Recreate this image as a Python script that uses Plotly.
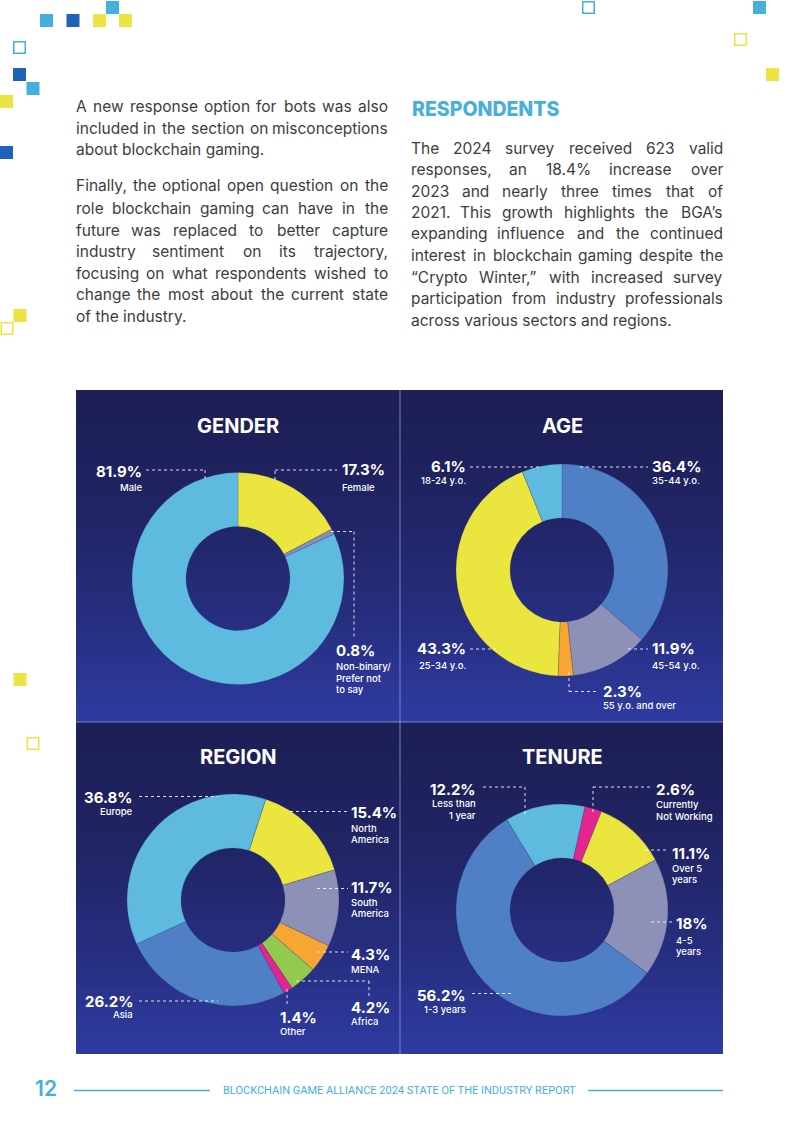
import plotly.graph_objects as go

W, H = 800, 1131

# ---------------- data ----------------
gender_labels = ["Female", "Non-binary/<br>Prefer not<br>to say", "Male"]
gender_values = [17.3, 0.8, 81.9]

age_labels = ["35-44 y.o.", "45-54 y.o.", "55 y.o. and over", "25-34 y.o.", "18-24 y.o."]
age_values = [36.4, 11.9, 2.3, 43.3, 6.1]

region_labels = ["North<br>America", "South<br>America", "MENA", "Africa", "Other", "Asia", "Europe"]
region_values = [15.4, 11.7, 4.3, 4.2, 1.4, 26.2, 36.8]

tenure_labels = ["Currently<br>Not Working", "Over 5<br>years", "4-5<br>years", "1-3 years", "Less than<br>1 year"]
tenure_values = [2.6, 11.1, 18, 56.2, 12.2]

left_text = [
    "A new response option for bots was also",
    "includedinthesectiononmisconceptions",
    "about blockchain gaming.",
    "Finally, the optional open question on the",
    "role blockchain gaming can have in the",
    "future was replaced to better capture",
    "industry sentiment on its trajectory,",
    "focusing on what respondents wished to",
    "change the most about the current state",
    "of the industry.",
]
left_justify = [True, True, False, True, True, True, True, True, True, False]
right_heading = "RESPONDENTS"
right_text = [
    "The 2024 survey received 623 valid",
    "responses, an 18.4% increase over",
    "2023 and nearly three times that of",
    "2021. This growth highlights the BGA’s",
    "expanding influence and the continued",
    "interest in blockchain gaming despite the",
    "“Crypto Winter,” with increased survey",
    "participation from industry professionals",
    "across various sectors and regions.",
]
right_justify = [True, True, True, True, True, True, True, True, False]
footer_page = "12"
footer_text = "BLOCKCHAIN GAME ALLIANCE 2024 STATE OF THE INDUSTRY REPORT"

# ---------------- styles ----------------
LB = "#5fbadf"
YEL = "#ebe63f"
BLUE = "#4f80c6"
GRAY = "#8d91b8"
ORANGE = "#f7a634"
GREEN = "#93c94f"
PINK = "#e6248f"
NB = "#8a8fb8"

ACC_LB = "#45b0dc"
ACC_DB = "#1f63b8"
ACC_Y = "#ece442"

FONT = "Inter, Open Sans, sans-serif"
BODY_COLOR = "#3d3d3d"
BODY_SIZE = 15.5

# approximate Inter advance widths (em) for justification
CW = {}
CW.update(dict(zip("abcdefghijklmnopqrstuvwxyz",
                   [.56, .60, .54, .60, .57, .35, .60, .58, .24, .24, .53, .24, .87, .58, .59, .60,
                    .60, .37, .51, .35, .58, .53, .78, .52, .53, .52])))
CW.update(dict(zip("ABCDEFGHIJKLMNOPQRSTUVWXYZ",
                   [.68, .64, .71, .70, .58, .56, .72, .73, .27, .50, .65, .54, .87, .74, .74, .62,
                    .74, .63, .62, .62, .72, .68, .97, .65, .65, .62])))
CW.update({d: .60 for d in "0234567890"})
CW.update({"1": .42, ".": .26, ",": .26, "’": .24, "“": .42, "”": .42, "%": .86, "-": .45, " ": .27})

# word pieces for the run-together line (rendered without spaces in the source)
SPLIT_PIECES = {"includedinthesectiononmisconceptions": ["included", "in", "the", "section", "on", "misconceptions"]}


def est_width(s, size):
    return sum(CW.get(ch, .56) for ch in s) * size


def X(x):
    return x / W


def Y(y):
    return 1 - y / H


def ann(text, x, y, xanchor, font, yanchor="middle"):
    return dict(text=text, x=X(x), y=Y(y), xref="paper", yref="paper", showarrow=False,
                xanchor=xanchor, yanchor=yanchor, font=font, borderpad=0, borderwidth=0)


fig = go.Figure()
shapes = []
annotations = []

# ---------- panel gradient background ----------
def lerp(c1, c2, t):
    a = [int(c1[i:i + 2], 16) for i in (1, 3, 5)]
    b = [int(c2[i:i + 2], 16) for i in (1, 3, 5)]
    return "rgb(%d,%d,%d)" % tuple(round(a[k] + (b[k] - a[k]) * t) for k in range(3))


PX0, PX1 = 76, 723
rows = [(390, 722), (722, 1054)]
N = 40
for (y0, y1) in rows:
    for i in range(N):
        t = (i + 0.5) / N
        col = lerp("#1d1f56", "#2f3ba2", t ** 1.6)
        ya = y0 + (y1 - y0) * i / N
        shapes.append(dict(type="rect", xref="paper", yref="paper",
                           x0=X(PX0), x1=X(PX1), y0=Y(y1), y1=Y(ya),
                           fillcolor=col, line=dict(width=0), layer="below"))
# dividers
shapes.append(dict(type="line", xref="paper", yref="paper", x0=X(400), x1=X(400),
                   y0=Y(390), y1=Y(1054), line=dict(color="rgba(150,160,225,0.75)", width=1), layer="below"))
shapes.append(dict(type="line", xref="paper", yref="paper", x0=X(PX0), x1=X(PX1),
                   y0=Y(722), y1=Y(722), line=dict(color="rgba(150,160,225,0.75)", width=1), layer="below"))

# ---------- donuts ----------
R = 106
HOLE = 0.49
charts = [
    dict(title="GENDER", labels=gender_labels, values=gender_values, colors=[YEL, NB, LB],
         cx=238, cy=578.5, rot=0, tx=238, ty=426),
    dict(title="AGE", labels=age_labels, values=age_values, colors=[BLUE, GRAY, ORANGE, YEL, LB],
         cx=562, cy=570, rot=0, tx=562, ty=426),
    dict(title="REGION", labels=region_labels, values=region_values,
         colors=[YEL, GRAY, ORANGE, GREEN, PINK, BLUE, LB],
         cx=233, cy=900, rot=18, tx=238, ty=757),
    dict(title="TENURE", labels=tenure_labels, values=tenure_values,
         colors=[PINK, YEL, GRAY, BLUE, LB],
         cx=562, cy=910, rot=12.5, tx=562, ty=757),
]

for c in charts:
    fig.add_trace(go.Pie(
        labels=c["labels"], values=c["values"], sort=False, direction="clockwise",
        rotation=c["rot"], hole=HOLE, textinfo="none", showlegend=False,
        marker=dict(colors=c["colors"], line=dict(color="rgba(40,45,110,0.35)", width=0.6)),
        domain=dict(x=[X(c["cx"] - R), X(c["cx"] + R)], y=[Y(c["cy"] + R), Y(c["cy"] - R)]),
        hoverinfo="label+percent",
    ))
    annotations.append(ann(c["title"], c["tx"], c["ty"], "center",
                           dict(family=FONT, size=20, color="white", weight=700)))

# label placements: (side, x, y_pct, y_caption_first)
placements = [
    [("left", 342, 470, 487), ("left", 336, 650, 666.5), ("right", 142, 471.5, 487.5)],
    [("left", 652, 466, 480), ("left", 652, 649, 665), ("left", 603, 691.5, 705),
     ("right", 466, 649, 665), ("right", 466, 466, 480)],
    [("left", 351, 812.5, 828), ("left", 351, 887.5, 902), ("left", 351, 954, 969.5),
     ("left", 351, 1007, 1021), ("left", 280, 1017.5, 1031), ("right", 133, 1001, 1014.5),
     ("right", 133, 797.5, 811)],
    [("left", 656, 789.5, 804.5), ("left", 672, 853, 868), ("left", 676, 923.5, 940),
     ("right", 466, 995, 1009), ("right", 476, 789.5, 803.5)],
]
leaders = [
    [[(275, 480), (275, 470), (337, 470)], [(331, 531.5), (354, 531.5), (354, 638)],
     [(146, 470), (205, 470), (205, 480)]],
    [[(580, 467), (648, 467)], [(628, 649), (648, 649)], [(569, 672), (569, 691.5), (598, 691.5)],
     [(470, 649), (496, 649)], [(470, 467), (542, 467)]],
    [[(290, 811.5), (348, 811.5)], [(317, 888.5), (348, 888.5)], [(317, 952), (348, 952)],
     [(296, 981), (369, 981), (369, 996)], [(287, 989), (287, 1006)], [(139, 1001), (218, 1001)],
     [(139, 796.5), (218, 796.5)]],
    [[(593, 812), (593, 787), (652, 787)], [(645, 850), (668, 850)], [(651, 922), (672, 922)],
     [(472, 993.5), (512, 993.5)], [(483, 787), (525, 787), (525, 816)]],
]

CAP_STEP = 11.5
for c, pl, ld in zip(charts, placements, leaders):
    for lab, val, (side, x, yp, yc), pts in zip(c["labels"], c["values"], pl, ld):
        annotations.append(ann(f"{val:g}%", x, yp, side,
                               dict(family=FONT, size=15, color="white", weight=700)))
        for k, line in enumerate(lab.split("<br>")):
            annotations.append(ann(line, x, yc + k * CAP_STEP, side,
                                   dict(family=FONT, size=9.5, color="white", weight=500)))
        for (xa, ya), (xb, yb) in zip(pts[:-1], pts[1:]):
            shapes.append(dict(type="line", xref="paper", yref="paper", x0=X(xa), y0=Y(ya),
                               x1=X(xb), y1=Y(yb),
                               line=dict(color="rgba(255,255,255,0.85)", width=1, dash="dot")))


# ---------- body text (justified by word placement) ----------
def body_line(text, x0, x1, yy, justify):
    font = dict(family=FONT, size=BODY_SIZE, color=BODY_COLOR)
    words = SPLIT_PIECES.get(text, text.split(" "))
    if not justify or len(words) < 2:
        annotations.append(ann(text, x0, yy, "left", font))
        return
    widths = [est_width(w, BODY_SIZE) for w in words]
    gap = (x1 - x0 - sum(widths)) / (len(words) - 1)
    pos = x0
    for i, (w, wd) in enumerate(zip(words, widths)):
        if i == 0:
            ax, anc = x0, "left"
        elif i == len(words) - 1:
            ax, anc = x1, "right"
        else:
            ax, anc = pos + wd / 2, "center"
        annotations.append(ann(w, ax, yy, anc, font))
        pos += wd + gap


left_y = [106, 128, 150, 186, 208, 230, 251.5, 273, 295, 316.5]
for t, yy, j in zip(left_text, left_y, left_justify):
    body_line(t, 76, 388, yy, j)
annotations.append(ann(right_heading, 411.5, 109, "left",
                       dict(family=FONT, size=19.5, color=ACC_LB, weight=800)))
right_y = [148, 169.5, 191, 212.5, 234, 255.5, 277, 298.5, 320]
for t, yy, j in zip(right_text, right_y, right_justify):
    body_line(t, 411, 723, yy, j)

# ---------- footer ----------
annotations.append(ann(footer_page, 46, 1088, "center",
                       dict(family=FONT, size=21, color=ACC_LB, weight=600)))
annotations.append(ann(footer_text, 399, 1090, "center",
                       dict(family="Liberation Sans Narrow, Roboto, sans-serif", size=11, color=ACC_LB)))
for xa, xb in [(74, 210), (588, 723)]:
    shapes.append(dict(type="line", xref="paper", yref="paper", x0=X(xa), x1=X(xb), y0=Y(1090.5), y1=Y(1090.5),
                       line=dict(color=ACC_LB, width=1.5)))

# ---------- decorative squares ----------
squares = [
    (40, 14, ACC_LB, True), (66.5, 14, ACC_DB, True), (93, 14, ACC_Y, True), (106, 1, ACC_LB, True),
    (119, 14, ACC_Y, True), (13, 41, ACC_LB, False), (13, 68, ACC_DB, True), (26.5, 82, ACC_LB, True),
    (0, 95, ACC_Y, True), (0, 146, ACC_DB, True), (582, 1, ACC_LB, False), (753, 1, ACC_LB, True),
    (734, 33, ACC_Y, False), (766, 68, ACC_Y, True), (13.5, 309, ACC_Y, True), (0.5, 322, ACC_Y, False),
    (13.5, 673, ACC_Y, True), (26.5, 737, ACC_Y, False),
]
S = 13
for (sx, sy, col, filled) in squares:
    if filled:
        shapes.append(dict(type="rect", xref="paper", yref="paper", x0=X(sx), x1=X(sx + S),
                           y0=Y(sy + S), y1=Y(sy), fillcolor=col, line=dict(width=0)))
    else:
        shapes.append(dict(type="rect", xref="paper", yref="paper", x0=X(sx + 0.75), x1=X(sx + S - 0.75),
                           y0=Y(sy + S - 0.75), y1=Y(sy + 0.75), fillcolor="rgba(0,0,0,0)",
                           line=dict(color=col, width=1.5)))

fig.update_layout(
    width=W, height=H, margin=dict(l=0, r=0, t=0, b=0),
    paper_bgcolor="white", plot_bgcolor="white",
    shapes=shapes, annotations=annotations, showlegend=False,
)
fig.write_html("out.html", config={"displayModeBar": False},
               post_script="document.body.style.margin='0px';document.body.style.overflow='hidden';")
